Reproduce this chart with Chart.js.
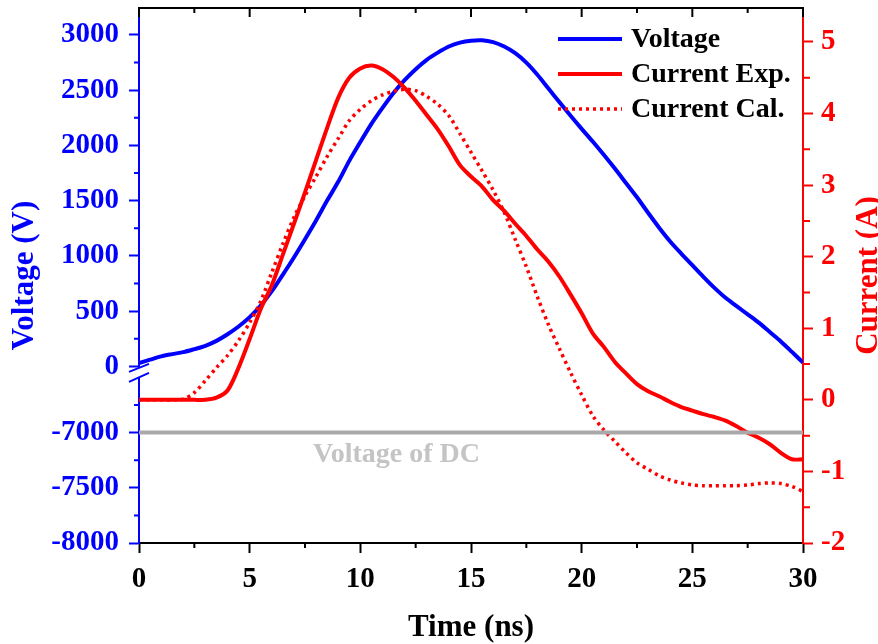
<!DOCTYPE html>
<html>
<head>
<meta charset="utf-8">
<title>Voltage and current pulse</title>
<script src="https://cdn.jsdelivr.net/npm/chart.js@4.4.1/dist/chart.umd.min.js"></script>
<style>
  html, body { margin: 0; padding: 0; background: #fff; }
  #wrap { width: 878px; height: 644px; }
</style>
</head>
<body>
<div id="wrap"><canvas id="chart" width="878" height="644"></canvas></div>
<script>
// data (time in ns)
const timeNs = [0, 0.5, 1, 1.5, 2, 2.5, 3, 3.5, 4, 4.5, 5, 5.5, 6, 6.5, 7, 7.5, 8, 8.5, 9, 9.5,
  10, 10.5, 11, 11.5, 12, 12.5, 13, 13.5, 14, 14.5, 15, 15.5, 16, 16.5, 17, 17.5, 18, 18.5, 19, 19.5,
  20, 20.5, 21, 21.5, 22, 22.5, 23, 23.5, 24, 24.5, 25, 25.5, 26, 26.5, 27, 27.5, 28, 28.5, 29, 29.5, 30];

const voltage = [30, 60, 90, 110, 128, 155, 185, 230, 290, 360, 445, 550, 680, 830, 985, 1150, 1320, 1500, 1670, 1860,
  2030, 2195, 2340, 2475, 2590, 2690, 2775, 2840, 2895, 2930, 2948, 2952, 2935, 2895, 2835, 2750, 2640, 2515, 2390, 2268,
  2150, 2035, 1915, 1790, 1660, 1530, 1390, 1255, 1130, 1020, 915, 810, 710, 620, 545, 470, 395, 310, 225, 130, 33];

const currentExp = [0, 0, 0, 0, 0, 0, 0, 0.03, 0.13, 0.45, 0.85, 1.27, 1.60, 2.03, 2.46, 2.90, 3.35, 3.80, 4.22, 4.50,
  4.63, 4.67, 4.62, 4.51, 4.36, 4.18, 3.98, 3.78, 3.54, 3.28, 3.12, 2.98, 2.79, 2.64, 2.46, 2.29, 2.10, 1.93, 1.72, 1.47,
  1.21, 0.93, 0.74, 0.53, 0.37, 0.22, 0.12, 0.05, -0.03, -0.10, -0.15, -0.20, -0.24, -0.29, -0.37, -0.46, -0.53, -0.62, -0.74, -0.83, -0.83];

const currentCal = [0, 0, 0, 0, 0.01, 0.10, 0.27, 0.45, 0.62, 0.83, 1.08, 1.38, 1.78, 2.18, 2.55, 2.85, 3.12, 3.40, 3.65, 3.90,
  4.06, 4.18, 4.26, 4.31, 4.34, 4.32, 4.24, 4.13, 3.97, 3.72, 3.46, 3.20, 2.93, 2.62, 2.24, 1.86, 1.44, 1.05, 0.71, 0.38,
  0.07, -0.22, -0.42, -0.58, -0.74, -0.88, -0.97, -1.06, -1.12, -1.16, -1.19, -1.20, -1.20, -1.20, -1.20, -1.19, -1.17, -1.16, -1.17, -1.21, -1.28];

const dcVoltage = -7000;

// tick labels
const timeTicks = [0, 5, 10, 15, 20, 25, 30];
const voltTicks = [-8000, -7500, -7000, 0, 500, 1000, 1500, 2000, 2500, 3000];
const currentTicks = [-2, -1, 0, 1, 2, 3, 4, 5];

const FONT = "'Liberation Serif', 'Times New Roman', serif";
const BLUE = "#0000ff";
const RED = "#ff0000";

// the voltage axis is broken: the -8000..-6500 piece sits right under 0..3000
const BREAK_SHIFT = 6400;
function toAxis(v) { return v < -3000 ? v + BREAK_SHIFT : v; }
function fromAxis(a) { return a < 0 ? a - BREAK_SHIFT : a; }

function pts(ys, conv) {
  return timeNs.map((t, i) => ({ x: t, y: conv ? conv(ys[i]) : ys[i] }));
}

// keep the plot box fixed: no extra room for overhanging tick labels
function fixBox(size, key) {
  return (s) => {
    s[key] = size;
    s.paddingTop = 0; s.paddingBottom = 0; s.paddingLeft = 0; s.paddingRight = 0;
  };
}

// extra bits Chart.js can't do on its own: top frame, minor ticks,
// axis break, legend, DC label, right-hand title reading upward
const decor = {
  id: "decor",
  afterDraw(chart) {
    const ctx = chart.ctx;
    const area = chart.chartArea;
    const sx = chart.scales.x, sv = chart.scales.yV, sa = chart.scales.yA;
    ctx.save();

    // top frame + inward ticks
    ctx.strokeStyle = "#000";
    ctx.lineWidth = 2;
    ctx.beginPath();
    ctx.moveTo(area.left - 1, area.top);
    ctx.lineTo(area.right + 1, area.top);
    timeTicks.forEach((t) => {
      const px = sx.getPixelForValue(t);
      ctx.moveTo(px, area.top); ctx.lineTo(px, area.top + 9);
    });
    [2.5, 7.5, 12.5, 17.5, 22.5, 27.5].forEach((t) => {
      const px = sx.getPixelForValue(t);
      ctx.moveTo(px, area.top); ctx.lineTo(px, area.top + 5);
      ctx.moveTo(px, area.bottom); ctx.lineTo(px, area.bottom + 5);
    });
    ctx.stroke();

    // minor ticks, voltage axis
    ctx.strokeStyle = BLUE;
    ctx.beginPath();
    [-7750, -7250, -6750, 250, 750, 1250, 1750, 2250, 2750].forEach((v) => {
      const py = sv.getPixelForValue(toAxis(v));
      ctx.moveTo(area.left, py); ctx.lineTo(area.left - 5, py);
    });
    ctx.stroke();

    // minor ticks, current axis
    ctx.strokeStyle = RED;
    ctx.beginPath();
    [-1.5, -0.5, 0.5, 1.5, 2.5, 3.5, 4.5].forEach((v) => {
      const py = sa.getPixelForValue(v);
      ctx.moveTo(area.right, py); ctx.lineTo(area.right + 7, py);
    });
    ctx.stroke();

    // axis break marks
    const yb = sv.getPixelForValue(-60);
    ctx.fillStyle = "#fff";
    ctx.fillRect(area.left - 2, yb - 5, 4, 9);
    ctx.strokeStyle = BLUE;
    ctx.lineWidth = 2;
    ctx.beginPath();
    ctx.moveTo(area.left - 10, yb - 1); ctx.lineTo(area.left + 10, yb - 9);
    ctx.moveTo(area.left - 10, yb + 9); ctx.lineTo(area.left + 10, yb);
    ctx.stroke();

    // DC label
    ctx.font = "bold 28px " + FONT;
    ctx.fillStyle = "#c4c4c4";
    ctx.textAlign = "left";
    ctx.textBaseline = "middle";
    ctx.fillText("Voltage of DC", 313, 455);

    // legend
    chart.data.datasets.slice(0, 3).forEach((ds, i) => {
      const y = 39 + i * 35;
      ctx.strokeStyle = ds.borderColor;
      ctx.lineWidth = ds.borderWidth;
      ctx.setLineDash(ds.borderDash || []);
      ctx.beginPath();
      ctx.moveTo(558, y); ctx.lineTo(622, y);
      ctx.stroke();
      ctx.setLineDash([]);
      ctx.fillStyle = "#000";
      ctx.fillText(ds.label, 631, y + 1);
    });

    // right title
    ctx.font = "bold 31px " + FONT;
    ctx.translate(869, (area.top + area.bottom) / 2);
    ctx.rotate(-Math.PI / 2);
    ctx.textAlign = "center";
    ctx.fillStyle = RED;
    ctx.fillText("Current (A)", 0, 0);
    ctx.restore();
  }
};

const tickFont = { family: FONT, size: 29, weight: "bold" };
const titleFont = { family: FONT, size: 31, weight: "bold", lineHeight: 1 };

new Chart(document.getElementById("chart"), {
  type: "line",
  data: {
    datasets: [
      { label: "Voltage", data: pts(voltage, toAxis), yAxisID: "yV", borderColor: BLUE, borderWidth: 4, order: 4 },
      { label: "Current Exp.", data: pts(currentExp), yAxisID: "yA", borderColor: RED, borderWidth: 4, order: 3 },
      { label: "Current Cal.", data: pts(currentCal), yAxisID: "yA", borderColor: RED, borderWidth: 3.5, borderDash: [3, 4], order: 2 },
      { label: "Voltage of DC", data: [{ x: 0, y: toAxis(dcVoltage) }, { x: 30, y: toAxis(dcVoltage) }],
        yAxisID: "yV", borderColor: "#a9a9a9", borderWidth: 4, tension: 0, order: 1 }
    ]
  },
  options: {
    responsive: false,
    animation: false,
    devicePixelRatio: 1,
    layout: { padding: { top: 8, left: 0, right: 0, bottom: 0 } },
    elements: { point: { radius: 0 }, line: { tension: 0.3, fill: false } },
    plugins: { legend: { display: false }, tooltip: { enabled: false } },
    scales: {
      x: {
        type: "linear", position: "bottom", min: 0, max: 30,
        afterBuildTicks: (s) => { s.ticks = timeTicks.map((v) => ({ value: v })); },
        afterFit: fixBox(101, "height"),
        ticks: { color: "#000", font: tickFont, padding: 9, maxRotation: 0 },
        grid: { drawOnChartArea: false, drawTicks: true, tickLength: 10, tickColor: "#000", tickWidth: 2 },
        border: { color: "#000", width: 2 },
        title: { display: true, text: "Time (ns)", color: "#000", font: titleFont, padding: { top: 0, bottom: 1 } }
      },
      yV: {
        type: "linear", position: "left", min: toAxis(-8000), max: 3244,
        afterBuildTicks: (s) => { s.ticks = voltTicks.map((v) => ({ value: toAxis(v) })); },
        afterFit: fixBox(139, "width"),
        ticks: { color: BLUE, font: tickFont, padding: 10, callback: (v) => String(fromAxis(v)) },
        grid: { drawOnChartArea: false, drawTicks: true, tickLength: 10, tickColor: BLUE, tickWidth: 2 },
        border: { color: BLUE, width: 2 },
        title: { display: true, text: "Voltage (V)", color: BLUE, font: titleFont, padding: { top: 9, bottom: 0 } }
      },
      yA: {
        type: "linear", position: "right", min: -2, max: 5.475,
        afterBuildTicks: (s) => { s.ticks = currentTicks.map((v) => ({ value: v })); },
        afterFit: fixBox(75, "width"),
        ticks: { color: RED, font: tickFont, padding: 8 },
        grid: { drawOnChartArea: false, drawTicks: true, tickLength: 10, tickColor: RED, tickWidth: 2 },
        border: { color: RED, width: 2 }
      }
    }
  },
  plugins: [decor]
});
</script>
</body>
</html>
